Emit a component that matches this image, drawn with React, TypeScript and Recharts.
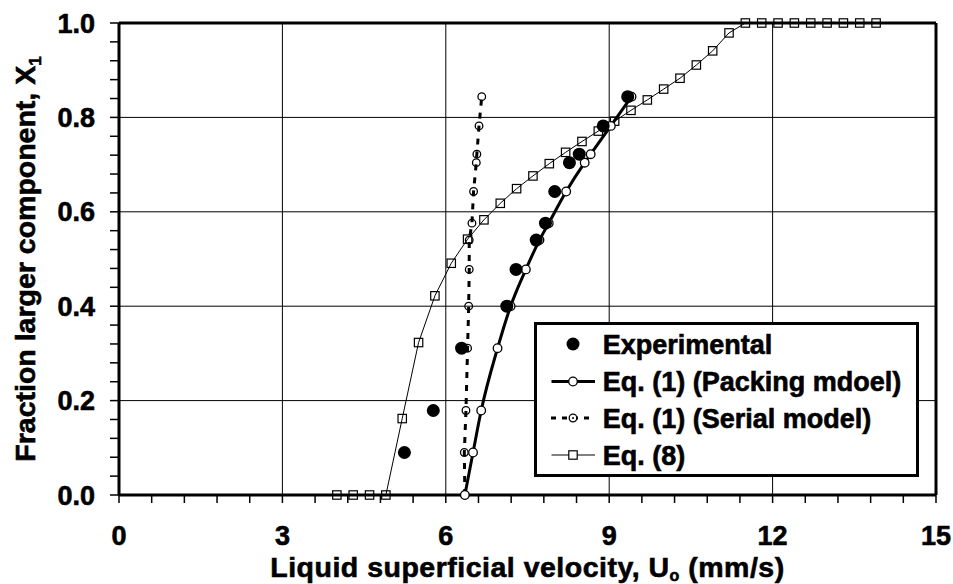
import React from 'react';
import { ComposedChart, Scatter, XAxis, YAxis, ReferenceLine, Legend, Label } from 'recharts';

// ---- data ----
const expX = [5.24, 5.77, 6.29, 7.12, 7.29, 7.66, 7.83, 8.0, 8.27, 8.45, 8.89, 9.34];
const expY = [0.09, 0.179, 0.311, 0.4, 0.478, 0.54, 0.576, 0.643, 0.704, 0.722, 0.782, 0.844];

const packX = [6.35, 6.5, 6.65, 6.95, 7.19, 7.47, 7.72, 7.89, 8.21, 8.55, 8.66, 9.03, 9.41];
const packY = [0, 0.09, 0.179, 0.311, 0.4, 0.478, 0.54, 0.576, 0.643, 0.704, 0.722, 0.782, 0.844];

const serialX = [6.35, 6.34, 6.37, 6.4, 6.42, 6.43, 6.43, 6.48, 6.51, 6.56, 6.57, 6.61, 6.66];
const serialY = [0, 0.09, 0.179, 0.311, 0.4, 0.478, 0.54, 0.576, 0.643, 0.704, 0.722, 0.782, 0.844];

const eq8X = [4.0, 4.3, 4.6, 4.9, 5.2, 5.5, 5.8, 6.1, 6.4, 6.7, 7.0, 7.3, 7.6, 7.9, 8.2, 8.5, 8.8,
  9.1, 9.4, 9.7, 10.0, 10.3, 10.6, 10.9, 11.2, 11.5, 11.8, 12.1, 12.4, 12.7, 13.0, 13.3, 13.6, 13.9];
const eq8Y = [0, 0, 0, 0, 0.162, 0.323, 0.422, 0.491, 0.542, 0.583, 0.618, 0.649, 0.676, 0.702,
  0.726, 0.749, 0.771, 0.792, 0.815, 0.837, 0.86, 0.883, 0.911, 0.941, 0.979, 1, 1, 1, 1, 1, 1, 1, 1, 1];

const xTicks = [0, 0.6, 1.2, 1.8, 2.4, 3, 3.6, 4.2, 4.8, 5.4, 6, 6.6, 7.2, 7.8, 8.4, 9, 9.6, 10.2,
  10.8, 11.4, 12, 12.6, 13.2, 13.8, 14.4, 15];
const xLabelTicks = [0, 3, 6, 9, 12, 15];
const yTicks = [0, 0.04, 0.08, 0.12, 0.16, 0.2, 0.24, 0.28, 0.32, 0.36, 0.4, 0.44, 0.48, 0.52, 0.56,
  0.6, 0.64, 0.68, 0.72, 0.76, 0.8, 0.84, 0.88, 0.92, 0.96, 1];
const yLabelTicks = [0, 0.2, 0.4, 0.6, 0.8, 1];
const xGrid = [3, 6, 9, 12];
const yGrid = [0.2, 0.4, 0.6, 0.8];

const legendLabels = ['Experimental', 'Eq. (1) (Packing mdoel)', 'Eq. (1) (Serial model)', 'Eq. (8)'];

const zip = (xs: number[], ys: number[]) => xs.map((x, i) => ({ x, y: ys[i] }));
const expData = zip(expX, expY);
const packData = zip(packX, packY);
const serialData = zip(serialX, serialY);
const eq8Data = zip(eq8X, eq8Y);

const FONT = '"Liberation Sans", Arial, Helvetica, sans-serif';
const TXT_STROKE = 0.6;

const near = (v: number, list: number[]) => list.some((t) => Math.abs(t - v) < 1e-6);

const FilledDot = (p: any) => <circle cx={p.cx} cy={p.cy} r={6.5} fill="#000" />;
const PackDot = (p: any) => <circle cx={p.cx} cy={p.cy} r={4.3} fill="#fff" stroke="#000" strokeWidth={1.3} />;
const SerialDot = (p: any) => <circle cx={p.cx} cy={p.cy} r={3.8} fill="none" stroke="#000" strokeWidth={1.3} />;
const SquareDot = (p: any) => (
  <rect x={p.cx - 4.2} y={p.cy - 4.2} width={8.4} height={8.4} fill="none" stroke="#000" strokeWidth={1.2} />
);

const XTitle = (props: any) => {
  const vb = props.viewBox || { x: 119, y: 495, width: 817, height: 89 };
  return (
    <text x={vb.x + vb.width / 2} y={vb.y + 82} textAnchor="middle" fontFamily={FONT} fontWeight="bold" fontSize={28.5}
      letterSpacing={0.5} fill="#000" stroke="#000" strokeWidth={TXT_STROKE}>
      Liquid superficial velocity, U
      <tspan fontSize={16} dy={4}>o</tspan>
      <tspan dy={-4}> (mm/s)</tspan>
    </text>
  );
};

const YTitle = (props: any) => {
  const vb = props.viewBox || { x: 0, y: 23, width: 119, height: 472 };
  const cx = vb.x + 35;
  const cy = vb.y + vb.height / 2;
  return (
    <text x={cx} y={cy} transform={`rotate(-90, ${cx}, ${cy})`} textAnchor="middle" fontFamily={FONT} fontWeight="bold"
      fontSize={28.5} fill="#000" stroke="#000" strokeWidth={TXT_STROKE}>
      Fraction larger component, X
      <tspan fontSize={17} dy={6}>1</tspan>
    </text>
  );
};

const LegendBox = () => {
  const rows = [22, 59.5, 96, 133];
  const base = [31.5, 69, 105.5, 142.5];
  return (
    <svg width={392} height={162} style={{ display: 'block', overflow: 'visible' }}>
      <rect x={3} y={3} width={382} height={152} fill="#000" />
      <rect x={1.5} y={1.5} width={382} height={152} fill="#fff" stroke="#000" strokeWidth={3} />
      <circle cx={39} cy={rows[0]} r={6.5} fill="#000" />
      <line x1={17.5} x2={61} y1={rows[1]} y2={rows[1]} stroke="#000" strokeWidth={3} />
      <circle cx={39} cy={rows[1]} r={4.3} fill="#fff" stroke="#000" strokeWidth={1.3} />
      <line x1={17} x2={55} y1={rows[2]} y2={rows[2]} stroke="#000" strokeWidth={3} strokeDasharray="5 6" />
      <circle cx={39} cy={rows[2]} r={3.8} fill="#fff" stroke="#000" strokeWidth={1.3} />
      <circle cx={39} cy={rows[2]} r={1} fill="#000" />
      <line x1={17.5} x2={61} y1={rows[3]} y2={rows[3]} stroke="#000" strokeWidth={1} />
      <rect x={39 - 4.2} y={rows[3] - 4.2} width={8.4} height={8.4} fill="#fff" stroke="#000" strokeWidth={1.2} />
      {legendLabels.map((t, i) => (
        <text key={t} x={68.7} y={base[i]} fontFamily={FONT} fontWeight="bold" fontSize={27} fill="#000"
          stroke="#000" strokeWidth={TXT_STROKE}>
          {t}
        </text>
      ))}
    </svg>
  );
};

const tickStyle = { fontSize: 27, fontWeight: 'bold', fill: '#000', fontFamily: FONT, stroke: '#000', strokeWidth: TXT_STROKE };

export default function App() {
  return (
    <div style={{ position: 'absolute', left: 0, top: 0, background: '#fff' }}>
      <ComposedChart width={953} height={584} margin={{ top: 23, right: 17, bottom: 0, left: 0 }} style={{ fontFamily: FONT }}>
        <XAxis
          dataKey="x"
          type="number"
          domain={[0, 15]}
          ticks={xTicks}
          interval={0}
          tickFormatter={(v: number) => (near(v, xLabelTicks) ? String(Math.round(v)) : '')}
          tickSize={8}
          tickMargin={23}
          height={89}
          axisLine={{ stroke: '#000', strokeWidth: 3 }}
          tickLine={{ stroke: '#000', strokeWidth: 1.5 }}
          tick={tickStyle}
        >
          <Label content={XTitle} />
        </XAxis>
        <YAxis
          dataKey="y"
          type="number"
          domain={[0, 1]}
          ticks={yTicks}
          interval={0}
          tickFormatter={(v: number) => (near(v, yLabelTicks) ? v.toFixed(1) : '')}
          tickSize={9}
          tickMargin={15}
          width={119}
          axisLine={{ stroke: '#000', strokeWidth: 3 }}
          tickLine={{ stroke: '#000', strokeWidth: 1.5 }}
          tick={tickStyle}
        >
          <Label content={YTitle} />
        </YAxis>
        {xGrid.map((v) => (
          <ReferenceLine key={'gx' + v} x={v} stroke="#000" strokeWidth={1} />
        ))}
        {yGrid.map((v) => (
          <ReferenceLine key={'gy' + v} y={v} stroke="#000" strokeWidth={1} />
        ))}
        <ReferenceLine y={1} stroke="#000" strokeWidth={3} />
        <ReferenceLine x={15} stroke="#000" strokeWidth={3} />
        <Legend verticalAlign="middle" align="center" layout="horizontal" content={<LegendBox />}
          wrapperStyle={{ left: 534, top: 322, width: 392, height: 162 }} />
        <Scatter name="Eq. (8)" data={eq8Data} line={{ stroke: '#000', strokeWidth: 1 }} lineType="joint" shape={SquareDot} isAnimationActive={false} />
        <Scatter name="Eq. (1) (Serial model)" data={serialData} line={{ stroke: '#000', strokeWidth: 3, strokeDasharray: '6 7' }} lineType="joint" shape={SerialDot} isAnimationActive={false} />
        <Scatter name="Eq. (1) (Packing mdoel)" data={packData} line={{ stroke: '#000', strokeWidth: 3 }} lineType="joint" lineJointType="monotoneX" shape={PackDot} isAnimationActive={false} />
        <Scatter name="Experimental" data={expData} shape={FilledDot} isAnimationActive={false} />
      </ComposedChart>
    </div>
  );
}
